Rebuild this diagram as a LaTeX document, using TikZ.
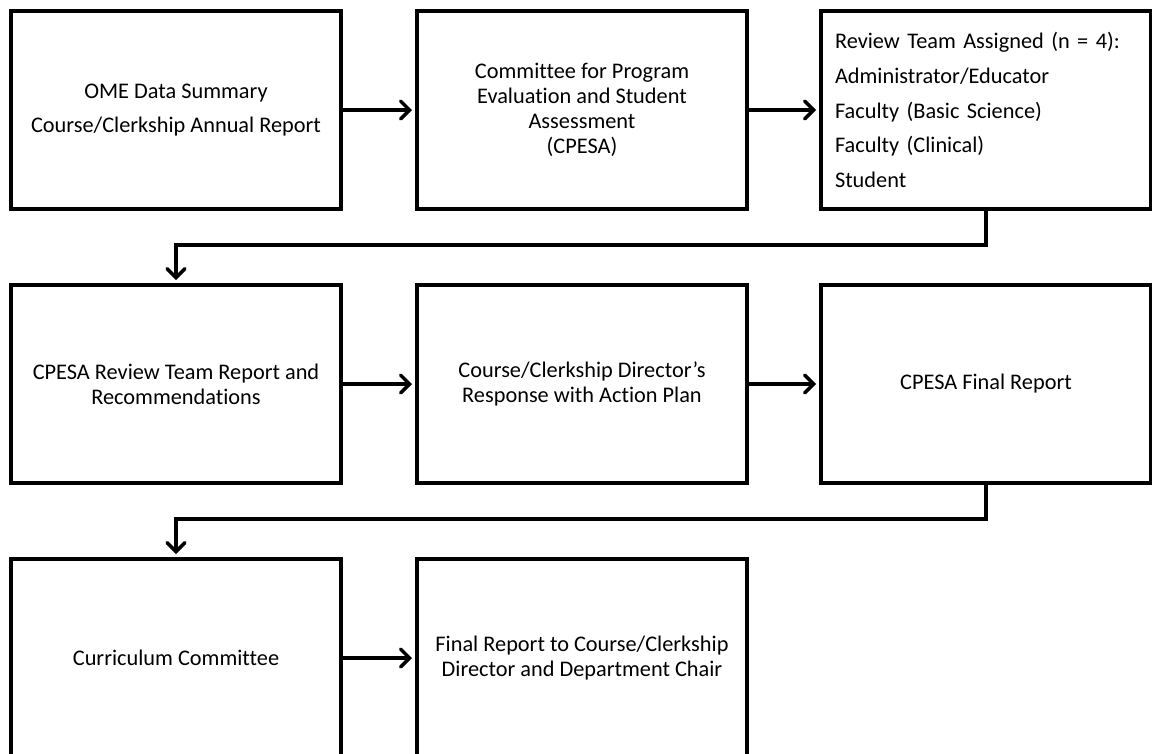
\documentclass[tikz,border=0pt]{standalone}
\usepackage{fontspec}
\setmainfont{Carlito}[Ligatures=NoCommon]
\usetikzlibrary{positioning}
\usetikzlibrary{arrows.meta}

\begin{document}
\begin{tikzpicture}
        \tikzstyle{stage}=[rectangle, draw=black, line width=2pt,
            outer sep=0pt, minimum width=6.6cm, minimum height=3.96cm,
            align=center, font=\fontsize{12.7}{14.2}\selectfont]
        \tikzstyle{flow}=[line width=2pt, shorten >=0.1cm,
            -{Straight Barb[length=5pt, width=10pt, line cap=round]}]

            \useasboundingbox (0,0) rectangle (23.04,-15.06);

            % first row
            \node[stage] (ome) at (3.52,-2.2)
            {OME Data Summary\\[5.6pt]Course/Clerkship Annual Report};
            \node[stage] (cpesa) at (11.64,-2.2)
            {Committee for Program\\Evaluation and Student\\Assessment\\(CPESA)};
            \node[stage, align=left, text width=6.04cm, inner xsep=0.28cm,
            font=\fontsize{12.7}{19.8}\selectfont] (team) at (19.72,-2.2)
            {Review Team Assigned (n = 4):\\Administrator/Educator\\
            Faculty (Basic Science)\\Faculty (Clinical)\\Student};

            % second row
            \node[stage] (teamrep) at (3.52,-7.68)
            {CPESA Review Team Report and\\Recommendations};
            \node[stage] (director) at (11.64,-7.68)
            {Course/Clerkship Director’s\\Response with Action Plan};
            \node[stage] (final) at (19.72,-7.68) {CPESA Final Report};

            % third row
            \node[stage] (curr) at (3.52,-13.16) {Curriculum Committee};
            \node[stage] (chair) at (11.64,-13.16)
            {Final Report to Course/Clerkship\\Director and Department Chair};

            \foreach \a/\b in {ome/cpesa, cpesa/team, teamrep/director,
                director/final, curr/chair}
            {
                \draw[flow] (\a) -- (\b);
            }

            \draw[flow] (team.south) -- ++(0,-0.72) -| (teamrep.north);
            \draw[flow] (final.south) -- ++(0,-0.72) -| (curr.north);
    \end{tikzpicture}
\end{document}
